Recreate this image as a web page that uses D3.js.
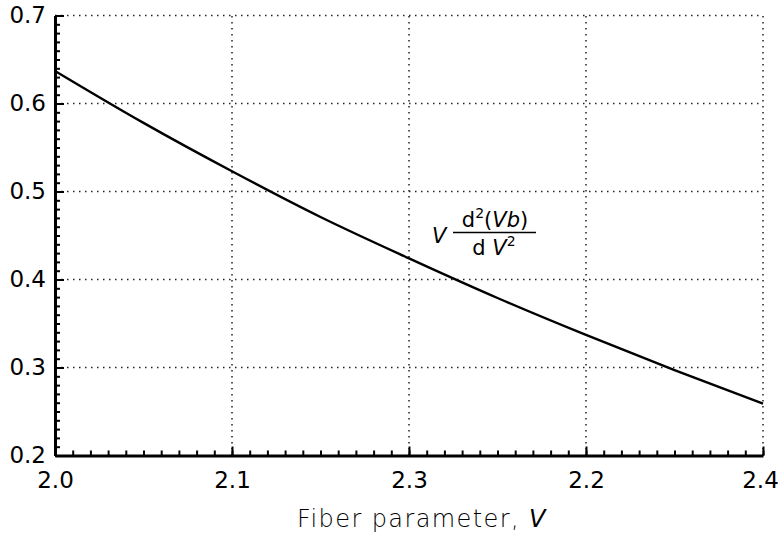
<!DOCTYPE html>
<html>
<head>
<meta charset="utf-8">
<script src="https://cdn.jsdelivr.net/npm/d3@7"></script>
<style>
  html, body { margin: 0; padding: 0; background: #fff; }
  svg { display: block; }
</style>
</head>
<body>
<svg id="chart" width="779" height="536"></svg>
<script>
// Normalized parameter V·d²(Vb)/dV² as a function of the fiber parameter V
const fiberV = [2.00, 2.05, 2.10, 2.15, 2.20, 2.25, 2.30, 2.35, 2.40];
const dispersionTerm = [0.637, 0.578, 0.523, 0.471, 0.424, 0.379, 0.337, 0.297, 0.259];

const xTickValues = [2.0, 2.1, 2.2, 2.3, 2.4];
const xTickLabels = ["2.0", "2.1", "2.3", "2.2", "2.4"];
const yTickValues = [0.2, 0.3, 0.4, 0.5, 0.6, 0.7];
const yTickLabels = ["0.2", "0.3", "0.4", "0.5", "0.6", "0.7"];
const xLabel = "Fiber parameter, ";
const xLabelVar = "V";

const W = 779, H = 536;
const margin = { left: 55, right: 16, top: 15.5, bottom: 80.5 };

const svg = d3.select("#chart");
const x = d3.scaleLinear().domain([2.0, 2.4]).range([margin.left, W - margin.right]);
const y = d3.scaleLinear().domain([0.2, 0.7]).range([H - margin.bottom, margin.top]);

const tickFont = "'DejaVu Sans', sans-serif";

// dotted grid
const grid = svg.append("g").attr("stroke", "#222").attr("stroke-width", 1.5)
  .attr("stroke-dasharray", "1.5,4.5").attr("fill", "none");
grid.selectAll("line.v").data(xTickValues.slice(1)).join("line")
  .attr("x1", d => x(d)).attr("x2", d => x(d))
  .attr("y1", y(0.2)).attr("y2", y(0.7));
grid.selectAll("line.h").data(yTickValues.slice(1)).join("line")
  .attr("x1", x(2.0)).attr("x2", x(2.4))
  .attr("y1", d => y(d)).attr("y2", d => y(d));

// minor ticks
const minorX = d3.range(0, 41).map(i => 2.0 + i * 0.01);
const minorY = d3.range(0, 51).map(i => 0.2 + i * 0.01);
svg.append("g").attr("transform", `translate(0,${y(0.2)})`)
  .call(d3.axisBottom(x).tickValues(minorX).tickSize(-5).tickSizeOuter(0).tickFormat(""))
  .call(g => g.select(".domain").remove())
  .selectAll("line").attr("stroke", "#000").attr("stroke-width", 2);
svg.append("g").attr("transform", `translate(${x(2.0)},0)`)
  .call(d3.axisLeft(y).tickValues(minorY).tickSize(-5).tickSizeOuter(0).tickFormat(""))
  .call(g => g.select(".domain").remove())
  .selectAll("line").attr("stroke", "#000").attr("stroke-width", 2);

// major axes
const xAxis = svg.append("g").attr("transform", `translate(0,${y(0.2)})`)
  .call(d3.axisBottom(x).tickValues(xTickValues).tickSize(-9).tickSizeOuter(0)
    .tickPadding(16).tickFormat((d, i) => xTickLabels[i]));
xAxis.select(".domain").attr("stroke", "#000").attr("stroke-width", 3);
xAxis.selectAll(".tick line").attr("stroke", "#000").attr("stroke-width", 2);
xAxis.selectAll("text").attr("font-family", tickFont).attr("font-size", 23).attr("fill", "#000")
  .attr("dx", (d, i) => i === xTickValues.length - 1 ? -3 : 0);

const yAxis = svg.append("g").attr("transform", `translate(${x(2.0)},0)`)
  .call(d3.axisLeft(y).tickValues(yTickValues).tickSize(-9).tickSizeOuter(0)
    .tickPadding(9).tickFormat((d, i) => yTickLabels[i]));
yAxis.select(".domain").attr("stroke", "#000").attr("stroke-width", 3);
yAxis.selectAll(".tick line").attr("stroke", "#000").attr("stroke-width", 2);
yAxis.selectAll("text").attr("font-family", tickFont).attr("font-size", 23).attr("fill", "#000");

// curve
const line = d3.line()
  .x((d, i) => x(fiberV[i]))
  .y(d => y(d))
  .curve(d3.curveMonotoneX);
svg.append("path").datum(dispersionTerm)
  .attr("d", line)
  .attr("fill", "none").attr("stroke", "#000").attr("stroke-width", 2.4);

// axis title
const title = svg.append("text")
  .attr("x", 422).attr("y", 527)
  .attr("text-anchor", "middle")
  .attr("font-family", "'DejaVu Sans', sans-serif")
  .attr("font-size", 24).attr("font-weight", 300)
  .attr("letter-spacing", 1.4)
  .attr("fill", "#000");
title.append("tspan").text(xLabel);
title.append("tspan").attr("font-style", "italic").text(xLabelVar);

// annotation: V d²(Vb)/dV²
const ann = svg.append("g")
  .attr("font-family", "'DejaVu Sans', sans-serif")
  .attr("font-size", 21).attr("fill", "#000");
ann.append("text").attr("x", 432).attr("y", 243).attr("font-style", "italic").text("V");
const num = ann.append("text").attr("x", 495).attr("y", 227).attr("text-anchor", "middle");
num.append("tspan").text("d");
num.append("tspan").attr("font-size", 14).attr("dy", -9).text("2");
num.append("tspan").attr("dy", 9).text("(");
num.append("tspan").attr("font-style", "italic").text("Vb");
num.append("tspan").text(")");
ann.append("line").attr("x1", 453).attr("x2", 536).attr("y1", 232.5).attr("y2", 232.5)
  .attr("stroke", "#000").attr("stroke-width", 1.5);
const den = ann.append("text").attr("x", 494).attr("y", 255).attr("text-anchor", "middle");
den.append("tspan").text("d ");
den.append("tspan").attr("font-style", "italic").text("V");
den.append("tspan").attr("font-size", 14).attr("dy", -9).text("2");
</script>
</body>
</html>
